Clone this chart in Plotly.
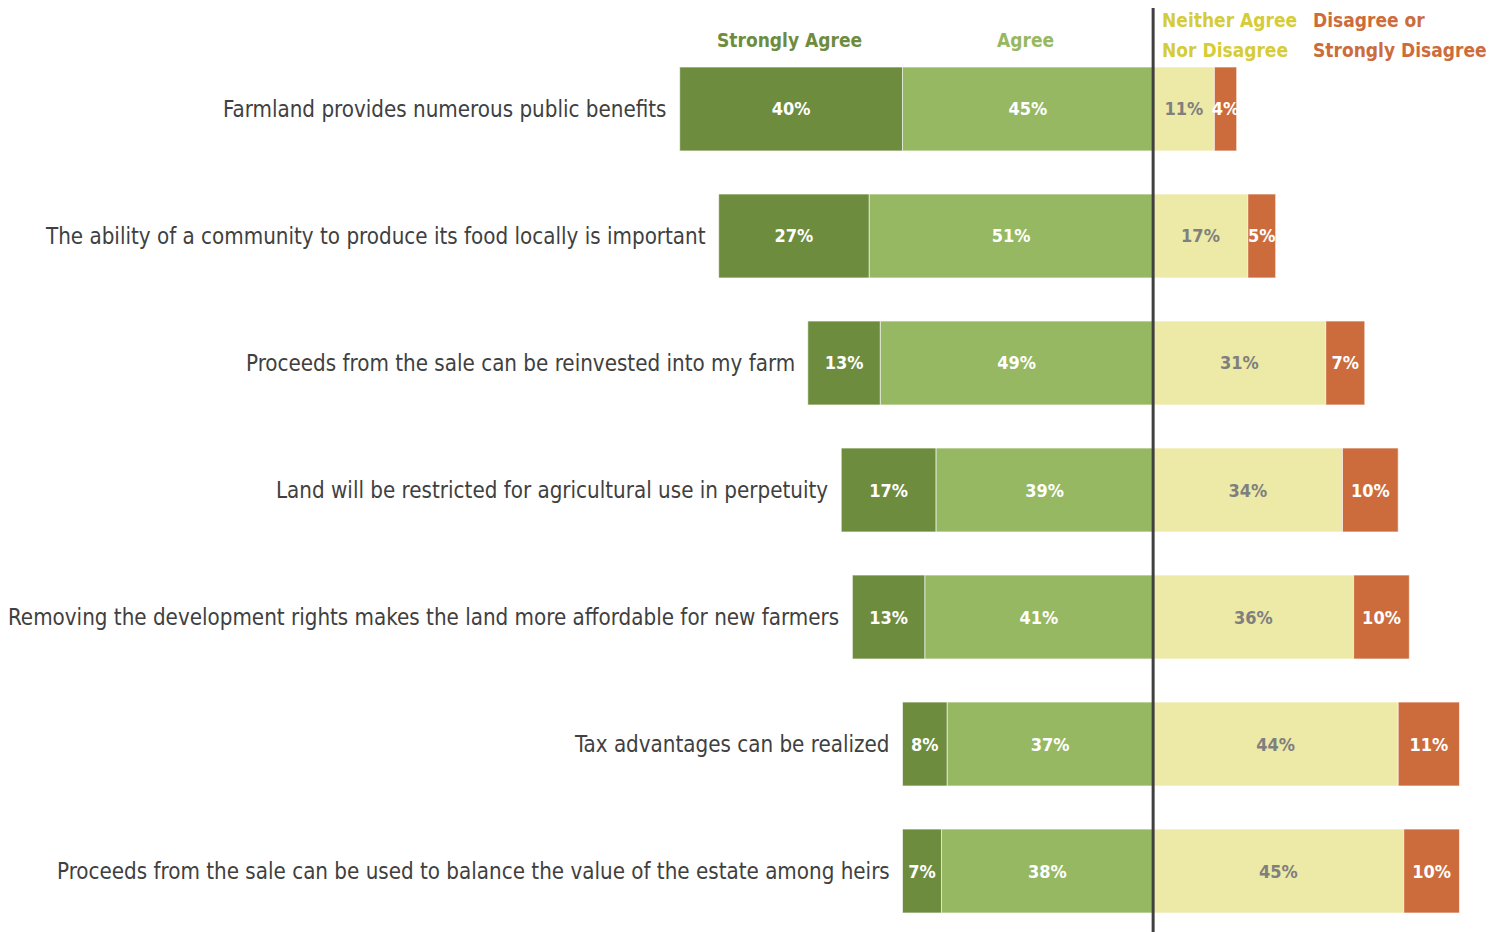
import plotly.graph_objects as go

statements = [
    "Farmland provides numerous public benefits",
    "The ability of a community to produce its food locally is important",
    "Proceeds from the sale can be reinvested into my farm",
    "Land will be restricted for agricultural use in perpetuity",
    "Removing the development rights makes the land more affordable for new farmers",
    "Tax advantages can be realized",
    "Proceeds from the sale can be used to balance the value of the estate among heirs",
]
strongly_agree = [40, 27, 13, 17, 13, 8, 7]
agree = [45, 51, 49, 39, 41, 37, 38]
neither = [11, 17, 31, 34, 36, 44, 45]
disagree = [4, 5, 7, 10, 10, 11, 10]

FONT = "Liberation Sans Narrow, Arial Narrow, DejaVu Sans Condensed, sans-serif"
C_SA = "#6E8C3E"
C_A = "#97B862"
C_N = "#EDE9A6"
C_D = "#CC6C3C"
C_N_HEAD = "#D6CC38"

rows = list(range(len(statements)))


def bar(values, color, name, text_color, negative=False):
    return go.Bar(
        y=rows,
        x=[-v if negative else v for v in values],
        orientation="h",
        name=name,
        marker=dict(color=color, line=dict(color="white", width=0.6)),
        text=[f"{v}%" for v in values],
        textposition="inside",
        insidetextanchor="middle",
        textangle=0,
        textfont=dict(family=FONT, size=18, color=text_color, weight="bold"),
        hoverinfo="skip",
    )


fig = go.Figure()
# negative stacks grow outward in trace order
fig.add_trace(bar(agree, C_A, "Agree", "white", negative=True))
fig.add_trace(bar(strongly_agree, C_SA, "Strongly Agree", "white", negative=True))
fig.add_trace(bar(neither, C_N, "Neither Agree Nor Disagree", "#7F7F7F"))
fig.add_trace(bar(disagree, C_D, "Disagree or Strongly Disagree", "white"))

# statement labels sit just left of each bar
for i, s in enumerate(statements):
    fig.add_annotation(
        x=-(strongly_agree[i] + agree[i]), y=i, text=s,
        xanchor="right", yanchor="middle", xshift=-11, showarrow=False,
        font=dict(family=FONT, size=22.2, color="#404040"),
    )

# column headers: (line text, x, y, anchor, colour)
headers = [
    ("Strongly Agree", -65.2, -0.543, "center", C_SA),
    ("Agree", -23.0, -0.543, "center", C_A),
    ("Neither Agree", 1.2, -0.70, "left", C_N_HEAD),
    ("Nor Disagree", 1.2, -0.465, "left", C_N_HEAD),
    ("Disagree or", 28.4, -0.70, "left", C_D),
    ("Strongly Disagree", 28.4, -0.465, "left", C_D),
]
for txt, x, y, anchor, col in headers:
    fig.add_annotation(
        x=x, y=y, text=txt, xanchor=anchor, yanchor="middle", showarrow=False,
        font=dict(family=FONT, size=19, color=col, weight="bold"),
    )

fig.add_shape(
    type="line", x0=0, x1=0, xref="x", y0=0, y1=1, yref="paper",
    line=dict(color="#404040", width=3),
)

fig.update_layout(
    width=1486, height=924,
    margin=dict(l=0, r=0, t=0, b=0),
    barmode="relative",
    bargap=0.34,
    showlegend=False,
    plot_bgcolor="white",
    paper_bgcolor="white",
    uniformtext=dict(minsize=18, mode="show"),
    xaxis=dict(range=[-205.6, 61.2], visible=False),
    yaxis=dict(range=[6.48, -0.795], visible=False),
)

fig.write_html("out.html")
